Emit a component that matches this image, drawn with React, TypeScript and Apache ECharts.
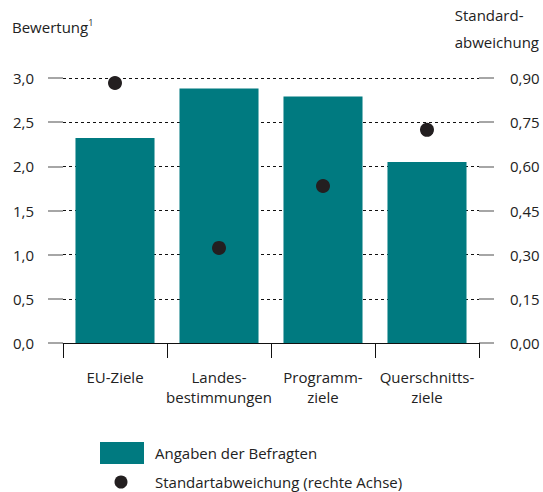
import React, { useEffect, useRef } from "react";
import * as echarts from "echarts";

const categories = ["EU-Ziele", "Landes-\nbestimmungen", "Programm-\nziele", "Querschnitts-\nziele"];
const ratings = [2.32, 2.88, 2.79, 2.05];
const stdDev = [0.883, 0.323, 0.533, 0.724];
const leftTicks = [0, 0.5, 1, 1.5, 2, 2.5, 3];
const rightTicks = [0, 0.15, 0.3, 0.45, 0.6, 0.75, 0.9];
const legendLabels = ["Angaben der Befragten", "Standartabweichung (rechte Achse)"];

const TEAL = "#007a80";
const DOT = "#231f20";
const FONT = "Open Sans";
const FS = 15;

export default function App() {
  const ref = useRef<HTMLDivElement>(null);
  useEffect(() => {
    const chart = echarts.init(ref.current!, null, { renderer: "svg" });
    chart.setOption({
      animation: false,
      textStyle: { fontFamily: FONT },
      grid: { left: 63, right: 64, top: 78, bottom: 149, containLabel: false },
      xAxis: {
        type: "category",
        data: categories,
        axisLine: { show: true, lineStyle: { color: "#111", width: 1 } },
        axisTick: { show: true, length: 15, lineStyle: { color: "#111", width: 1 } },
        axisLabel: { color: "#222", fontSize: FS, fontFamily: FONT, margin: 24, lineHeight: 20, interval: 0 },
      },
      yAxis: [
        {
          type: "value",
          min: leftTicks[0],
          max: leftTicks[leftTicks.length - 1],
          interval: 0.5,
          axisLine: { show: false },
          axisTick: { show: true, length: 15, lineStyle: { color: "#888", width: 1.5 } },
          splitLine: { show: true, lineStyle: { color: "#111", type: [3, 3], width: 1 } },
          axisLabel: {
            color: "#222",
            fontSize: FS,
            fontFamily: FONT,
            margin: 29,
            formatter: (v: number) => v.toFixed(1).replace(".", ","),
          },
        },
        {
          type: "value",
          min: rightTicks[0],
          max: rightTicks[rightTicks.length - 1],
          interval: 0.15,
          position: "right",
          axisLine: { show: false },
          axisTick: { show: true, length: 15, lineStyle: { color: "#888", width: 1.5 } },
          splitLine: { show: false },
          axisLabel: {
            color: "#222",
            fontSize: FS,
            fontFamily: FONT,
            margin: 31,
            formatter: (v: number) => v.toFixed(2).replace(".", ","),
          },
        },
      ],
      series: [
        {
          name: legendLabels[0],
          type: "bar",
          data: ratings,
          yAxisIndex: 0,
          barCategoryGap: "24%",
          itemStyle: { color: TEAL },
          z: 2,
        },
        {
          name: legendLabels[1],
          type: "scatter",
          data: stdDev,
          yAxisIndex: 1,
          symbol: "circle",
          symbolSize: 14,
          itemStyle: { color: DOT, opacity: 1 },
          z: 3,
        },
      ],
      graphic: [
        {
          type: "text",
          left: 12,
          top: 18,
          style: {
            text: "{a|Bewertung}{s|1}",
            rich: {
              a: { fontSize: FS, fontFamily: FONT, fill: "#222" },
              s: { fontSize: 9, fontFamily: FONT, fill: "#222", verticalAlign: "top", padding: [0, 0, 8, 0] },
            },
          },
        },
        {
          type: "text",
          right: 4,
          top: 1,
          style: {
            text: "Standard-\nabweichung",
            fontSize: FS,
            fontFamily: FONT,
            fill: "#222",
            align: "right",
            lineHeight: 27,
          },
        },
        {
          type: "rect",
          shape: { x: 100, y: 442, width: 44, height: 22 },
          style: { fill: TEAL },
        },
        {
          type: "text",
          x: 155,
          y: 453,
          style: { text: legendLabels[0], fontSize: FS, fontFamily: FONT, fill: "#222", verticalAlign: "middle" },
        },
        {
          type: "circle",
          shape: { cx: 121, cy: 482, r: 6.5 },
          style: { fill: DOT },
        },
        {
          type: "text",
          x: 155,
          y: 482,
          style: { text: legendLabels[1], fontSize: FS, fontFamily: FONT, fill: "#222", verticalAlign: "middle" },
        },
      ],
    });
    return () => chart.dispose();
  }, []);
  return <div ref={ref} style={{ width: 543, height: 492, position: "absolute", left: 0, top: 0 }} />;
}
